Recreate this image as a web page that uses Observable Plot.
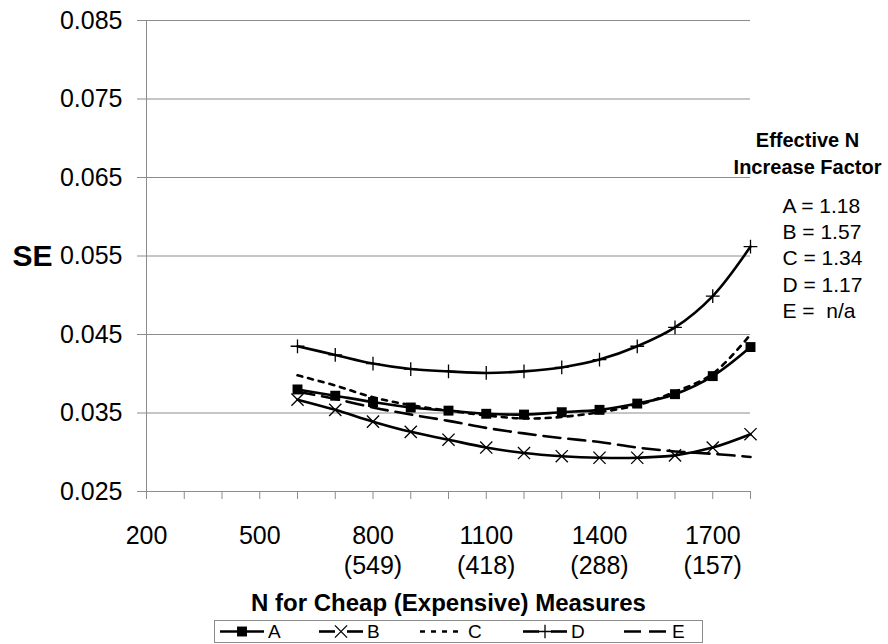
<!DOCTYPE html>
<html>
<head>
<meta charset="utf-8">
<script src="https://cdn.jsdelivr.net/npm/d3@7"></script>
<script src="https://cdn.jsdelivr.net/npm/@observablehq/plot@0.6"></script>
<style>
  html, body { margin: 0; padding: 0; background: #fff; }
  #wrap { width: 888px; height: 644px; position: relative; font-family: "Liberation Sans", Arial, sans-serif; }
  #legend { display: block; }
</style>
</head>
<body>
<div id="wrap"></div>
<script>
// ---- data ----
const nValues = [600, 700, 800, 900, 1000, 1100, 1200, 1300, 1400, 1500, 1600, 1700, 1800];
const seriesNames = ["A", "B", "C", "D", "E"];
const seA = [0.0380, 0.0372, 0.0364, 0.0357, 0.0353, 0.0349, 0.0348, 0.0351, 0.0354, 0.0362, 0.0374, 0.0397, 0.0434];
const seB = [0.0367, 0.0354, 0.0339, 0.0326, 0.0316, 0.0306, 0.0299, 0.0295, 0.0293, 0.0293, 0.0296, 0.0306, 0.0323];
const seC = [0.0398, 0.0385, 0.0370, 0.0360, 0.0353, 0.0347, 0.0343, 0.0345, 0.0351, 0.0360, 0.0377, 0.0400, 0.0450];
const seD = [0.0435, 0.0424, 0.0413, 0.0406, 0.0403, 0.0401, 0.0403, 0.0408, 0.0418, 0.0435, 0.0459, 0.0499, 0.0562];
const seE = [0.0377, 0.0368, 0.0357, 0.0348, 0.0340, 0.0331, 0.0324, 0.0318, 0.0313, 0.0306, 0.0301, 0.0298, 0.0294];
const yTicks = [0.025, 0.035, 0.045, 0.055, 0.065, 0.075, 0.085];
const xTickMarks = [200, 300, 400, 500, 600, 700, 800, 900, 1000, 1100, 1200, 1300, 1400, 1500, 1600, 1700, 1800];
const xLabelValues = [200, 500, 800, 1100, 1400, 1700];
const xLabelExpensive = ["", "", "(549)", "(418)", "(288)", "(157)"];
const factorValues = ["1.18", "1.57", "1.34", "1.17", "\u00a0n/a"];
const annotTitle = ["Effective N", "Increase Factor"];
const yTitle = "SE";
const xTitle = "N for Cheap (Expensive) Measures";

// ---- build table ----
const seriesValues = {A: seA, B: seB, C: seC, D: seD, E: seE};
const rows = seriesNames.flatMap(s => nValues.map((n, i) => ({series: s, n, se: seriesValues[s][i]})));
const of = s => rows.filter(r => r.series === s);

const FONT = '"Liberation Sans", Arial, sans-serif';
const GRID = "#8c8c8c";
const LW = 2.6;
const styles = {
  A: {dash: null, symbol: "square", r: 5.6, fill: "black", stroke: "none"},
  B: {dash: null, symbol: "times", r: 5.6, fill: "none", stroke: "black"},
  C: {dash: "5,6", symbol: null},
  D: {dash: null, symbol: "plus", r: 4.5, fill: "none", stroke: "black"},
  E: {dash: "17,8", symbol: null}
};

const lineMarks = seriesNames.map(s => Plot.line(of(s), {
  x: "n", y: "se", stroke: "black", strokeWidth: LW, curve: "catmull-rom",
  strokeDasharray: styles[s].dash || undefined
}));
const dotMarks = seriesNames.filter(s => styles[s].symbol).map(s => Plot.dot(of(s), {
  x: "n", y: "se", symbol: styles[s].symbol, r: styles[s].r,
  fill: styles[s].fill, stroke: styles[s].stroke, strokeWidth: 1.3
}));

const chart = Plot.plot({
  width: 888,
  height: 618,
  marginLeft: 146,
  marginRight: 138,
  marginTop: 20,
  marginBottom: 127,
  x: {domain: [200, 1800]},
  y: {domain: [0.025, 0.085]},
  style: {fontFamily: FONT, color: "black", background: "white"},
  marks: [
    Plot.gridY(yTicks, {stroke: GRID, strokeOpacity: 1, strokeWidth: 1}),
    Plot.axisY({ticks: yTicks, tickSize: 9, tickPadding: 15, tickFormat: d3.format(".3f"),
      fontSize: 25, stroke: GRID, fill: "black", label: null}),
    Plot.axisX({ticks: xTickMarks, tickSize: 8, tickFormat: () => "", stroke: GRID, label: null}),
    Plot.ruleX([200], {stroke: GRID, strokeWidth: 1}),
    Plot.ruleY([0.025], {stroke: GRID, strokeWidth: 1}),
    Plot.text(xLabelValues, {
      x: d => d,
      text: (d, i) => xLabelExpensive[i] ? `${d}\n${xLabelExpensive[i]}` : `${d}`,
      frameAnchor: "bottom", lineAnchor: "top", dy: 32, fontSize: 25, lineHeight: 1.18
    }),
    ...lineMarks,
    ...dotMarks,
    Plot.text([yTitle], {text: d => d, frameAnchor: "left", dx: -94, textAnchor: "end",
      fontSize: 30, fontWeight: "bold"}),
    Plot.text([xTitle], {text: d => d, frameAnchor: "bottom", dy: 112, lineAnchor: "middle",
      fontSize: 24, fontWeight: "bold"}),
    Plot.text([annotTitle.join("\n")], {text: d => d, frameAnchor: "top-right", dx: 57, dy: 131,
      textAnchor: "middle", lineAnchor: "middle", lineHeight: 1.35, fontSize: 20, fontWeight: "bold"}),
    Plot.text([seriesNames.map((s, i) => `${s} = ${factorValues[i]}`).join("\n")], {
      text: d => d, frameAnchor: "top-right", dx: 32, dy: 236.5,
      textAnchor: "start", lineAnchor: "middle", lineHeight: 1.25, fontSize: 21
    })
  ]
});
document.getElementById("wrap").appendChild(chart);

// ---- legend (below the chart) ----
const leg = d3.create("svg").attr("id", "legend").attr("width", 888).attr("height", 26)
  .style("font-family", FONT);
leg.append("rect").attr("x", 214.5).attr("y", 2.5).attr("width", 488).attr("height", 22)
  .attr("fill", "white").attr("stroke", GRID).attr("stroke-width", 1);
const legX = [220, 319, 420, 523, 624];
const cy = 13.5;
seriesNames.forEach((s, i) => {
  const x0 = legX[i];
  const st = styles[s];
  const g = leg.append("g");
  g.append("line").attr("x1", x0).attr("x2", x0 + 44).attr("y1", cy).attr("y2", cy)
    .attr("stroke", "black").attr("stroke-width", LW)
    .attr("stroke-dasharray", st.dash);
  if (st.symbol) {
    const sym = {square: d3.symbolSquare, times: d3.symbolTimes, plus: d3.symbolPlus}[st.symbol];
    g.append("path").attr("transform", `translate(${x0 + 22},${cy})`)
      .attr("d", d3.symbol(sym, Math.PI * st.r * st.r)())
      .attr("fill", st.fill).attr("stroke-width", 1.3)
      .attr("stroke", st.stroke === "none" ? null : st.stroke);
    if (s === "B" || s === "D") {
      // gap in line behind marker, as in the reference
      g.select("line").remove();
      g.insert("line", "path").attr("x1", x0).attr("x2", x0 + 16).attr("y1", cy).attr("y2", cy)
        .attr("stroke", "black").attr("stroke-width", LW);
      g.insert("line", "path").attr("x1", x0 + 28).attr("x2", x0 + 44).attr("y1", cy).attr("y2", cy)
        .attr("stroke", "black").attr("stroke-width", LW);
    }
  }
  g.append("text").attr("x", x0 + 48).attr("y", cy).attr("dy", "0.35em")
    .attr("font-size", 19).attr("fill", "black").text(s);
});
document.getElementById("wrap").appendChild(leg.node());
</script>
</body>
</html>
